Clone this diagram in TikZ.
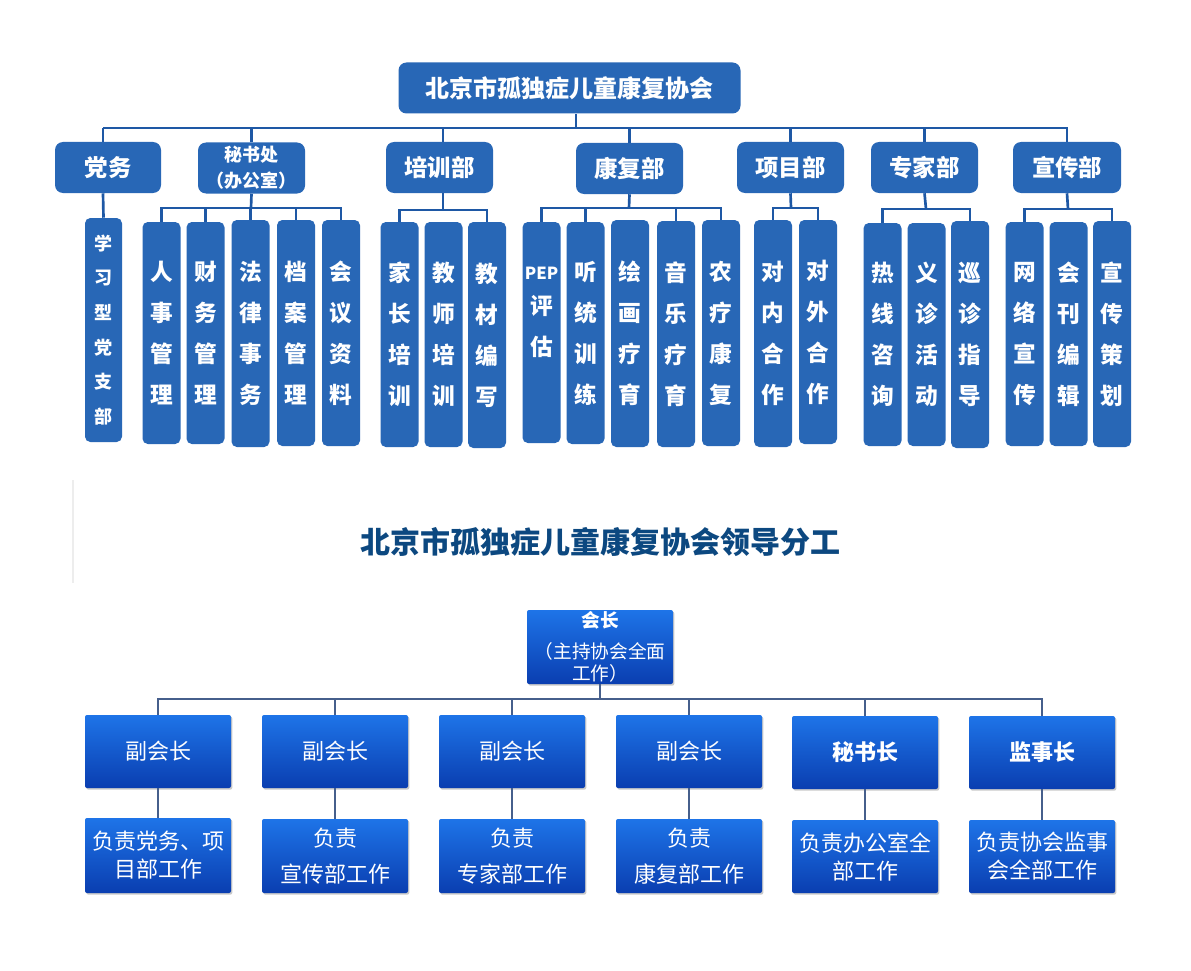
\documentclass[tikz,border=0pt]{standalone}
\usepackage{fontspec}
\setmainfont{Noto Sans CJK SC}
\usetikzlibrary{shadows}
\newdimen\px \px=0.75pt
\definecolor{boxblue}{RGB}{40,103,182}
\definecolor{lineblue}{RGB}{30,88,165}
\definecolor{titleblue}{RGB}{12,72,128}
\definecolor{gtop}{RGB}{30,116,232}
\definecolor{gbot}{RGB}{10,62,176}
\definecolor{thinline}{RGB}{70,95,140}
\tikzset{
  topbox/.style={fill=boxblue, rounded corners=6pt, text=white, inner sep=0pt,
    font=\bfseries\fontsize{18}{22}\selectfont},
  deptbox/.style={fill=boxblue, rounded corners=6pt, text=white, inner sep=0pt, align=center,
    minimum height=51\px, font=\bfseries\fontsize{17.5}{21}\selectfont},
  colbox/.style={fill=boxblue, rounded corners=4pt, text=white, inner sep=0pt, align=center,
    minimum width=38\px, font=\bfseries\fontsize{17}{30.75}\selectfont},
  conn/.style={draw=lineblue, line width=2pt},
  gbox/.style={top color=gtop, bottom color=gbot, draw=none, rounded corners=1.5pt,
    text=white, inner sep=0pt, align=center, minimum width=146\px,
    drop shadow={shadow xshift=1pt, shadow yshift=-1.2pt, opacity=0.35, fill=black!60},
    font=\fontsize{16.5}{21}\selectfont},
  thinconn/.style={draw=thinline, line width=0.8pt},
}
\begin{document}
\begin{tikzpicture}[x=0.75pt,y=-0.75pt]
\fill[white] (0,0) rectangle (1191,970);
\useasboundingbox (0,0) rectangle (1191,970);

% faint scan line
\draw[black!7, line width=0.8pt] (73,480) -- (73,583);

% ---------- top chart ----------
\node[topbox, minimum width=342\px, minimum height=51\px] (top) at (569.5,88) {北京市孤独症儿童康复协会};

\node[deptbox, minimum width=106\px] (dw) at (108,167.5) {党务};
\node[deptbox, minimum width=107\px, font=\bfseries\fontsize{13.5}{19.5}\selectfont] (ms) at (251.5,168) {秘书处\\（办公室）};
\node[deptbox, minimum width=107\px] (pxb) at (439.5,167.5) {培训部};
\node[deptbox, minimum width=107\px] (kf) at (629.5,168.5) {康复部};
\node[deptbox, minimum width=107\px] (xm) at (790.5,167.5) {项目部};
\node[deptbox, minimum width=107\px] (zj) at (924.5,167.5) {专家部};
\node[deptbox, minimum width=108\px] (xc) at (1067,167.5) {宣传部};

\node[colbox, minimum width=37\px, minimum height=224\px, font=\bfseries\fontsize{13.5}{26}\selectfont] (c0) at (103.5,330) {学\\习\\型\\党\\支\\部};
\node[colbox, minimum height=222\px] (c1) at (161.5,333) {人\\事\\管\\理};
\node[colbox, minimum height=222\px] (c2) at (205.5,333) {财\\务\\管\\理};
\node[colbox, minimum height=227\px] (c3) at (250.5,333.5) {法\\律\\事\\务};
\node[colbox, minimum height=226\px] (c4) at (296,333) {档\\案\\管\\理};
\node[colbox, minimum height=226\px] (c5) at (341,333) {会\\议\\资\\料};
\node[colbox, minimum height=225\px] (c6) at (399.5,334.5) {家\\长\\培\\训};
\node[colbox, minimum height=225\px] (c7) at (443.5,334.5) {教\\师\\培\\训};
\node[colbox, minimum height=226\px] (c8) at (487,335) {教\\材\\编\\写};
\node[colbox, minimum height=221\px] (c9) at (541.5,332.5) {{\fontsize{12.5}{12.5}\selectfont PEP}\\[-4.5pt]评\\估\\\phantom{估}};
\node[colbox, minimum height=222\px] (c10) at (585.5,333) {听\\统\\训\\练};
\node[colbox, minimum height=227\px] (c11) at (630,333.5) {绘\\画\\疗\\育};
\node[colbox, minimum height=226\px] (c12) at (676,334) {音\\乐\\疗\\育};
\node[colbox, minimum height=226\px] (c13) at (721,333) {农\\疗\\康\\复};
\node[colbox, minimum height=227\px] (c14) at (773,333.5) {对\\内\\合\\作};
\node[colbox, minimum height=224\px] (c15) at (818,332) {对\\外\\合\\作};
\node[colbox, minimum height=223\px] (c16) at (882.5,334.5) {热\\线\\咨\\询};
\node[colbox, minimum height=223\px] (c17) at (926.5,334.5) {义\\诊\\活\\动};
\node[colbox, minimum height=227\px] (c18) at (970,334.5) {巡\\诊\\指\\导};
\node[colbox, minimum height=224\px] (c19) at (1024.5,334) {网\\络\\宣\\传};
\node[colbox, minimum height=224\px] (c20) at (1068.5,334) {会\\刊\\编\\辑};
\node[colbox, minimum height=226\px] (c21) at (1112,334) {宣\\传\\策\\划};

% main bus
\coordinate (busL) at (103,128);
\coordinate (busR) at (1068,128);
\draw[conn] (busL) -- (busR);
\draw[conn] ([xshift=6.5\px]top.south) -- ([xshift=6.5\px]top.south |- busL);
\draw[conn] ([xshift=-5\px]dw.north) -- ([xshift=-5\px]dw.north |- busL);
\draw[conn] (ms.north) -- (ms.north |- busL);
\draw[conn] ([xshift=3.5\px]pxb.north) -- ([xshift=3.5\px]pxb.north |- busL);
\draw[conn] (kf.north) -- (kf.north |- busL);
\draw[conn] (xm.north) -- (xm.north |- busL);
\draw[conn] (zj.north) -- (zj.north |- busL);
\draw[conn] (xc.north) -- (xc.north |- busL);

% sub buses
\draw[conn] ([xshift=-5\px]dw.south) -- (c0.north);

\coordinate (msb) at (251,208);
\draw[conn] (ms.south) -- (msb);
\draw[conn] (c1.north) |- (msb) -| (c5.north);
\draw[conn] (c2.north) -- (c2.north |- msb);
\draw[conn] (c3.north) -- (c3.north |- msb);
\draw[conn] (c4.north) -- (c4.north |- msb);

\coordinate (pxbb) at (443,210);
\draw[conn] ([xshift=3.5\px]pxb.south) -- (pxbb);
\draw[conn] (c6.north) |- (pxbb) -| (c8.north);

\coordinate (kfb) at (629,208);
\draw[conn] (kf.south) -- (kfb);
\draw[conn] (c9.north) |- (kfb) -| (c13.north);
\draw[conn] (c10.north) -- (c10.north |- kfb);
\draw[conn] (c12.north) -- (c12.north |- kfb);

\coordinate (xmb) at (791,208);
\draw[conn] (xm.south) -- (xmb);
\draw[conn] (c14.north) |- (xmb) -| (c15.north);

\coordinate (zjb) at (926,209);
\draw[conn] (zj.south) -- (zjb);
\draw[conn] (c16.north) |- (zjb) -| (c18.north);

\coordinate (xcb) at (1068,209);
\draw[conn] (xc.south) -- (xcb);
\draw[conn] (c19.north) |- (xcb) -| (c21.north);

% ---------- title ----------
\node[text=titleblue, font=\bfseries\fontsize{22.5}{27}\selectfont] (title) at (600,542) {北京市孤独症儿童康复协会领导分工};

% ---------- bottom chart ----------
\node[gbox, minimum height=74\px, font=\fontsize{14}{17}\selectfont] (hz) at (600,647) {\bfseries 会长\\[6pt]（主持协会全面\\工作）};

\node[gbox, minimum height=73\px] (v1) at (158,751.5) {副会长};
\node[gbox, minimum height=73\px] (v2) at (335,751.5) {副会长};
\node[gbox, minimum height=73\px] (v3) at (512,751.5) {副会长};
\node[gbox, minimum height=73\px] (v4) at (689,751.5) {副会长};
\node[gbox, minimum height=73\px] (v5) at (865,752.5) {\bfseries 秘书长};
\node[gbox, minimum height=73\px] (v6) at (1042,752.5) {\bfseries 监事长};

\node[gbox, minimum height=75\px] (r1) at (158,855.5) {负责党务、项\\目部工作};
\node[gbox, minimum height=74\px, font=\fontsize{16.5}{27}\selectfont] (r2) at (335,856) {负责\\宣传部工作};
\node[gbox, minimum height=74\px, font=\fontsize{16.5}{27}\selectfont] (r3) at (512,856) {负责\\专家部工作};
\node[gbox, minimum height=74\px, font=\fontsize{16.5}{27}\selectfont] (r4) at (689,856) {负责\\康复部工作};
\node[gbox, minimum height=73\px] (r5) at (865,856.5) {负责办公室全\\部工作};
\node[gbox, minimum height=73\px] (r6) at (1042,856.5) {负责协会监事\\会全部工作};

\coordinate (hb) at (600,699);
\draw[thinconn] (hz.south) -- (hb);
\draw[thinconn] (v1.north) |- (hb) -| (v6.north);
\draw[thinconn] (v2.north) -- (v2.north |- hb);
\draw[thinconn] (v3.north) -- (v3.north |- hb);
\draw[thinconn] (v4.north) -- (v4.north |- hb);
\draw[thinconn] (v5.north) -- (v5.north |- hb);
\foreach \i in {1,...,6} { \draw[thinconn] (v\i.south) -- (r\i.north); }
\end{tikzpicture}
\end{document}
